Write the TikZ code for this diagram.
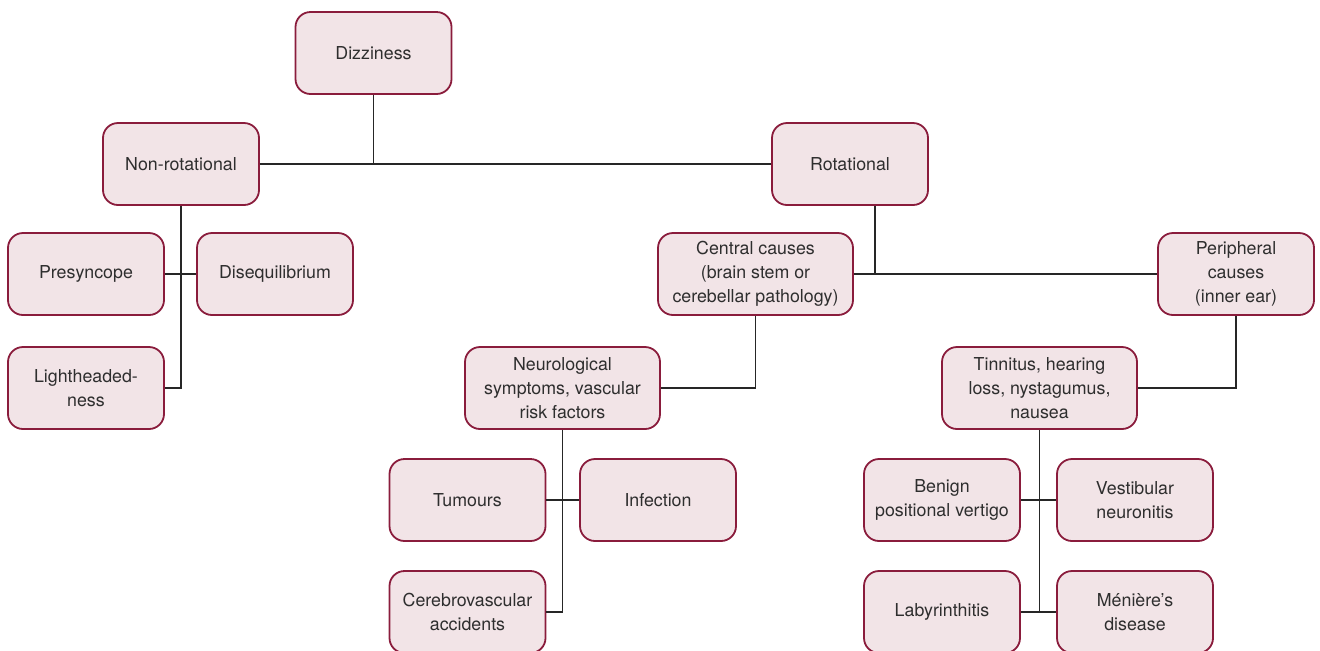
\documentclass[tikz,border=0pt]{standalone}
\usepackage{fontspec}
\setmainfont{TeX Gyre Heros}
\usepackage{tikz}
\usetikzlibrary{positioning,calc}
\usepackage{xcolor}
\definecolor{boxfill}{HTML}{F2E4E7}
\definecolor{boxline}{HTML}{8A1C3C}
\definecolor{textgrey}{HTML}{2E2E2E}
\tikzset{
  box/.style={draw=boxline, fill=boxfill, line width=0.9pt, rounded corners=7.5pt,
    minimum width=78pt, minimum height=41pt, align=center, text=textgrey,
    font=\fontsize{8.9}{12}\selectfont},
  widebox/.style={box, minimum width=97.5pt},
  link/.style={draw=black!85, line width=0.6pt},
}

\begin{document}
\begin{tikzpicture}[x=0.5pt,y=-0.5pt]
\useasboundingbox (0,0) rectangle (1320,650);

% top levels
\node[box] (dizzy) at (373.5,53) {Dizziness};
\node[box] (nonrot) at (181,164) {Non-rotational};
\node[box] (rot) at (850,164) {Rotational};

% non-rotational branch
\node[box] (presync) at (86,274) {Presyncope};
\node[box] (diseq) at (275,274) {Disequilibrium};
\node[box] (lighthead) at (86,388) {Lightheaded-\\ness};

% rotational branch
\node[widebox] (central) at (755.5,274) {Central causes\\(brain stem or\\cerebellar pathology)};
\node[box] (periph) at (1236,274) {Peripheral\\causes\\(inner ear)};
\node[widebox] (neuro) at (562.5,388) {Neurological\\symptoms, vascular\\risk factors};
\node[widebox] (tinn) at (1039.5,388) {Tinnitus, hearing\\loss, nystagumus,\\nausea};

% central causes
\node[box] (tumour) at (467.5,500) {Tumours};
\node[box] (infect) at (658,500) {Infection};
\node[box] (cva) at (467.5,612) {Cerebrovascular\\accidents};

% peripheral causes
\node[box] (bppv) at (942,500) {Benign\\positional vertigo};
\node[box] (vestib) at (1135,500) {Vestibular\\neuronitis};
\node[box] (labyr) at (942,612) {Labyrinthitis};
\node[box] (meniere) at (1135,612) {Ménière’s\\disease};

% connectors
\begin{scope}[on background layer/.try]
\path[link] (dizzy.south) -- (dizzy.south |- nonrot.east);
\path[link] (nonrot.east) -- (rot.west);
\path[link] (nonrot.south) |- (lighthead.east);
\path[link] (presync.east) -- (diseq.west);
\path[link] ([xshift=12.5pt]rot.south) -- ([xshift=12.5pt]rot.south |- central.east);
\path[link] (central.east) -- (periph.west);
\path[link] (central.south) |- (neuro.east);
\path[link] (periph.south) |- (tinn.east);
\path[link] (neuro.south) |- (cva.east);
\path[link] (tumour.east) -- (infect.west);
\path[link] (tinn.south) -- (tinn.south |- labyr.east);
\path[link] (bppv.east) -- (vestib.west);
\path[link] (labyr.east) -- (meniere.west);
\end{scope}
\end{tikzpicture}
\end{document}
